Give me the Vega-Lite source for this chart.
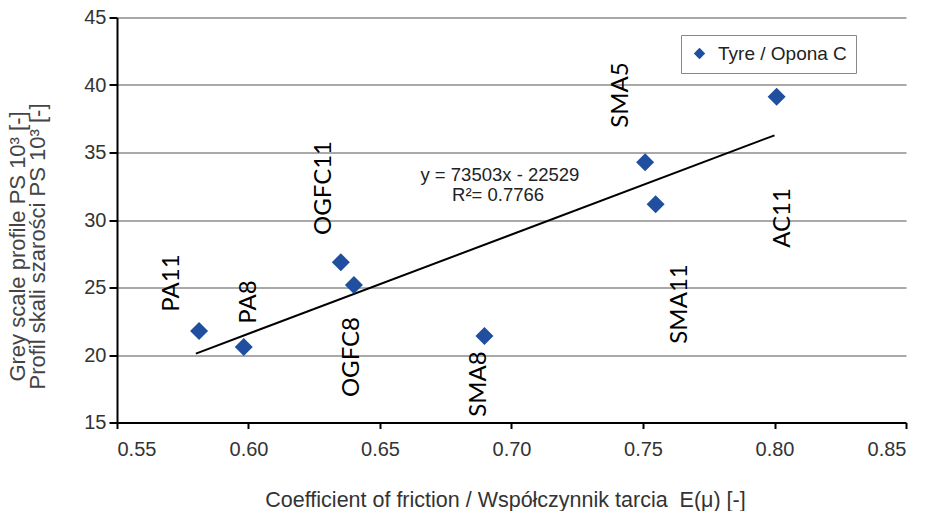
{
  "$schema": "https://vega.github.io/schema/vega-lite/v6.json",
  "width": 789,
  "height": 405,
  "autosize": {"type": "none"},
  "padding": {"left": 117, "top": 17.5, "right": 20, "bottom": 88.5},
  "background": "white",
  "config": {
    "view": {"stroke": null},
    "font": "Liberation Sans",
    "axis": {
      "labelFont": "Liberation Sans",
      "labelFontSize": 20,
      "labelColor": "#333333",
      "titleFont": "Liberation Sans",
      "titleFontSize": 21.5,
      "titleFontWeight": "normal",
      "titleColor": "#333333",
      "domainColor": "#000000",
      "domainWidth": 2,
      "tickColor": "#000000",
      "tickWidth": 2
    }
  },
  "datasets": {
    "samples": [
      {"mix": "PA11", "mu": 0.5812, "ps": 21.78, "series": "Tyre / Opona C"},
      {"mix": "PA8", "mu": 0.5982, "ps": 20.59, "series": "Tyre / Opona C"},
      {"mix": "OGFC11", "mu": 0.6351, "ps": 26.87, "series": "Tyre / Opona C"},
      {"mix": "OGFC8", "mu": 0.6401, "ps": 25.19, "series": "Tyre / Opona C"},
      {"mix": "SMA8", "mu": 0.6897, "ps": 21.41, "series": "Tyre / Opona C"},
      {"mix": "SMA5", "mu": 0.7508, "ps": 34.27, "series": "Tyre / Opona C"},
      {"mix": "SMA11", "mu": 0.7548, "ps": 31.16, "series": "Tyre / Opona C"},
      {"mix": "AC11", "mu": 0.8008, "ps": 39.13, "series": "Tyre / Opona C"}
    ],
    "labels": [
      {"mix": "PA11", "mu": 0.5708, "ps": 25.33},
      {"mix": "PA8", "mu": 0.6002, "ps": 23.93},
      {"mix": "OGFC11", "mu": 0.6286, "ps": 32.37},
      {"mix": "OGFC8", "mu": 0.6394, "ps": 19.85},
      {"mix": "SMA8", "mu": 0.6875, "ps": 17.85},
      {"mix": "SMA5", "mu": 0.7415, "ps": 39.26},
      {"mix": "SMA11", "mu": 0.764, "ps": 23.78},
      {"mix": "AC11", "mu": 0.8032, "ps": 30.15}
    ],
    "fit": [
      {"mu": 0.58, "ps": 20.103},
      {"mu": 0.80, "ps": 36.273}
    ],
    "equation": [
      {"mu": 0.6956, "ps": 33.33, "text": "y = 73503x - 22529"},
      {"mu": 0.6949, "ps": 31.85, "text": "R²= 0.7766"}
    ]
  },
  "encoding": {
    "x": {
      "field": "mu",
      "type": "quantitative",
      "scale": {"domain": [0.55, 0.85], "nice": false, "zero": false},
      "axis": {
        "values": [0.55, 0.6, 0.65, 0.7, 0.75, 0.8, 0.85],
        "format": ".2f",
        "grid": false,
        "tickSize": 6,
        "labelPadding": 11,
        "title": "Coefficient of friction / Współczynnik tarcia \u00a0E(μ) [-]",
        "titleX": 388,
        "titleY": 84,
        "titleBaseline": "alphabetic"
      }
    },
    "y": {
      "field": "ps",
      "type": "quantitative",
      "scale": {"domain": [15, 45], "nice": false, "zero": false},
      "axis": {
        "values": [15, 20, 25, 30, 35, 40, 45],
        "grid": true,
        "gridColor": "#8c8c8c",
        "gridWidth": 1.5,
        "tickSize": 8,
        "labelPadding": 3,
        "title": ["Grey scale profile PS 10³ [-]", "Profil skali szarości PS 10³ [-]"],
        "titleFontSize": 22,
        "titleColor": "#444444",
        "titleLineHeight": 20,
        "titleX": -100,
        "titleY": 228.5,
        "titleBaseline": "middle",
        "titleAlign": "center",
        "titleAngle": -90
      }
    }
  },
  "layer": [
    {
      "data": {"name": "fit"},
      "mark": {"type": "line", "color": "#000000", "strokeWidth": 2}
    },
    {
      "data": {"name": "samples"},
      "mark": {"type": "point", "shape": "diamond", "filled": true, "size": 324, "opacity": 1},
      "encoding": {
        "color": {
          "field": "series",
          "type": "nominal",
          "scale": {"range": ["#1f4f9e"]},
          "legend": {
            "title": null,
            "orient": "none",
            "legendX": 564,
            "legendY": 17.5,
            "padding": 9,
            "strokeColor": "#888888",
            "fillColor": "#ffffff",
            "symbolType": "diamond",
            "symbolSize": 130,
            "symbolStrokeWidth": 0,
            "labelFont": "Liberation Sans",
            "labelFontSize": 19,
            "labelColor": "#222222",
            "labelOffset": 9
          }
        }
      }
    },
    {
      "data": {"name": "labels"},
      "mark": {"type": "text", "angle": 270, "font": "Lato", "fontSize": 24, "color": "#000000", "align": "center", "baseline": "middle"},
      "encoding": {"text": {"field": "mix"}}
    },
    {
      "data": {"name": "equation"},
      "mark": {"type": "text", "font": "Liberation Sans", "fontSize": 18.5, "color": "#222222", "align": "center", "baseline": "middle"},
      "encoding": {"text": {"field": "text"}}
    }
  ]
}
